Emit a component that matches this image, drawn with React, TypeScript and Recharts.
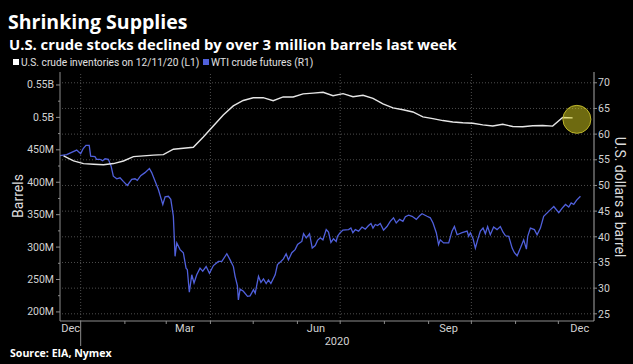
import React from 'react';
import { ComposedChart, Line, XAxis, YAxis, ReferenceLine, ReferenceDot } from 'recharts';

// day 0 = Jan 1 2020
const inventoryDays = [
  -12, -5, 2, 9, 16, 23, 30, 37, 44, 51, 58, 65, 72, 79, 86, 93, 100, 107, 114, 121,
  128, 135, 142, 149, 156, 163, 170, 177, 184, 191, 198, 205, 212, 219, 226, 233, 240,
  247, 254, 261, 268, 275, 282, 289, 296, 303, 310, 317, 324, 331, 338, 345,
];
// million barrels
const inventoryValues = [
  440.6, 432.8, 428.7, 427.8, 427.0, 428.8, 432.8, 439.5, 440.6, 441.8, 442.6, 450.9,
  452.4, 454.0, 469.9, 486.8, 503.8, 517.7, 526.1, 530.3, 530.5, 525.8, 531.5, 531.5,
  536.2, 537.4, 538.8, 533.5, 536.6, 531.8, 534.2, 529.2, 520.7, 514.6, 511.8, 508.4,
  500.7, 498.1, 495.1, 493.0, 491.8, 491.0, 488.4, 486.8, 489.4, 486.0, 485.6, 487.1,
  487.6, 486.5, 499.8, 499.2,
];

const wtiDays = [
  -14.5, -9.8, -2.8, 0, 1.8, 3.7, 6.0, 7.0, 10.0, 11.2, 13.5, 15.4, 17.1, 19.4, 21.3, 22.9,
  25.3, 27.6, 29.9, 32.7, 35.8, 38.1, 39.7, 42.1, 45.1, 48.2, 49.8, 52.2, 54.5, 57.6, 59.2,
  61.5, 63.2, 65.0, 66.2, 67.4, 69.7, 72.0, 73.9, 74.8, 76.2, 77.9, 79.5, 81.4, 83.7, 85.6,
  88.0, 90.3, 93.1, 96.6, 99.0, 102.5, 104.8, 107.1, 108.3, 109.9, 110.6, 111.8, 114.1,
  117.0, 118.8, 121.2, 122.4, 124.7, 126.4, 128.2, 130.1, 131.7, 133.4, 136.4, 138.0,
  140.4, 142.2, 144.1, 145.7, 148.1, 150.4, 152.1, 154.0, 155.1, 156.3, 158.2, 160.5,
  162.4, 164.5, 166.1, 168.0, 169.9, 172.2, 173.8, 175.5, 177.3, 179.2, 180.1, 182.0,
  183.9, 187.9, 189.5, 190.9, 192.6, 194.9, 197.3, 199.6, 201.9, 203.6, 205.0, 206.6,
  208.2, 210.1, 212.4, 214.8, 217.1, 219.4, 221.3, 223.7, 226.0, 227.7, 230.0, 232.4,
  235.4, 237.7, 239.4, 242.9, 245.2, 247.1, 249.4, 251.0, 252.2, 254.5, 258.1, 260.4,
  262.1, 264.0, 267.5, 271.0, 272.1, 273.3, 275.2, 276.8, 278.4, 280.3, 282.2, 283.8,
  285.4, 287.3, 289.6, 292.0, 294.3, 296.2, 297.9, 300.2, 302.6, 304.2, 306.1, 308.4,
  310.7, 312.6, 313.5, 315.4, 318.2, 320.1, 322.4, 324.7, 329.5, 331.8, 335.3, 337.7,
  340.0, 342.3, 344.0, 345.8, 347.7, 350.5,
];
// U.S. dollars a barrel
const wtiPrices = [
  55.8, 56.0, 56.9, 56.2, 57.2, 57.8, 57.8, 55.7, 55.6, 55.1, 55.1, 54.8, 55.2, 55.1, 53.8, 51.8,
  51.3, 51.5, 50.8, 50.0, 51.2, 51.3, 51.0, 51.9, 52.5, 53.3, 52.5, 50.8, 49.2, 46.3, 47.8,
  47.9, 47.3, 44.0, 36.2, 38.8, 37.5, 36.9, 33.9, 33.6, 29.2, 32.6, 31.0, 32.6, 33.9, 33.3,
  34.2, 32.9, 34.4, 35.2, 35.2, 36.7, 35.5, 34.2, 32.3, 30.5, 27.7, 29.8, 29.4,
  28.4, 28.5, 29.7, 29.0, 32.3, 31.1, 31.8, 30.9, 31.6, 30.9, 32.6, 34.6,
  35.2, 35.7, 36.7, 35.5, 36.9, 37.5, 38.5, 38.9, 39.1, 40.6, 39.8, 40.6,
  37.8, 38.3, 39.3, 39.8, 39.4, 41.4, 40.9, 38.9, 39.6, 39.1, 40.1, 40.8,
  41.3, 41.4, 41.7, 40.8, 41.4, 41.1, 41.9, 41.5, 42.2, 42.6, 41.7, 42.4,
  42.2, 42.6, 41.3, 42.0, 43.0, 43.7, 42.7, 43.4, 43.0, 43.9, 44.2, 44.0,
  43.4, 44.1, 44.5, 44.0, 43.7, 42.7, 40.8, 38.5, 39.4, 38.8, 38.8, 41.1,
  42.0, 40.4, 40.8, 41.1, 40.1, 40.8, 39.6, 37.8, 39.4, 41.1, 41.7, 40.6,
  42.0, 40.4, 41.9, 41.4, 42.0, 40.9, 40.2, 40.1, 37.8, 36.9, 36.3, 37.8,
  39.4, 37.6, 40.1, 41.7, 41.4, 40.4, 41.7, 44.0, 45.3, 45.9, 44.7, 45.6,
  46.3, 45.8, 46.6, 46.3, 47.1, 47.9,
];

const monthStartDays = [0, 31, 60, 91, 121, 152, 182, 213, 244, 274, 305, 335];
const quarterDays = [0, 91, 182, 274];
const monthLabels = ['Dec', 'Mar', 'Jun', 'Sep', 'Dec'];
const monthLabelDays = [-7, 73, 165, 258, 350];
const leftTicks = [200, 225, 250, 275, 300, 325, 350, 375, 400, 425, 450, 475, 500, 525, 550];
const rightTicks = [25, 30, 35, 40, 45, 50, 55, 60, 65, 70];
const highlight = { day: 348, value: 497 };

const inventoryData = inventoryDays.map((d, i) => ({ day: d, inv: inventoryValues[i] }));
const wtiData = wtiDays.map((d, i) => ({ day: d, wti: wtiPrices[i] }));

const FONT = 'Roboto, "Liberation Sans", Arial, sans-serif';
const HEAD_FONT = '"Open Sans", Roboto, sans-serif';
const AXIS = '#8c8c8c';
const TICK_TEXT = '#d2d2d2';
const GRID = '#4d4d4d';

const formatLeft = (v: number) => (v >= 500 ? `${v / 1000}B` : `${v}M`);

const LeftTick = (props: any) => {
  const { x, y, payload } = props;
  const v = payload.value;
  const major = v % 50 === 0;
  return (
    <g>
      <line x1={x - (major ? 4 : 2)} x2={x} y1={y} y2={y} stroke={AXIS} />
      {major && (
        <text x={x - 6} y={y} dy={3.5} textAnchor="end" fill={TICK_TEXT} fontSize={10.5} fontFamily={FONT}>
          {formatLeft(v)}
        </text>
      )}
    </g>
  );
};

const RightTick = (props: any) => {
  const { x, y, payload } = props;
  return (
    <g>
      <line x1={x} x2={x + 3} y1={y} y2={y} stroke={AXIS} />
      <text x={x + 4} y={y} dy={3.7} textAnchor="start" fill={TICK_TEXT} fontSize={10.5} fontFamily={FONT}>
        {payload.value}
      </text>
    </g>
  );
};

const BottomTick = (props: any) => {
  const { x, y, payload } = props;
  const v = payload.value;
  const li = monthLabelDays.indexOf(v);
  if (li >= 0) {
    return (
      <text x={x} y={y + 11} textAnchor="middle" fill={TICK_TEXT} fontSize={11} fontFamily={FONT}>
        {monthLabels[li]}
      </text>
    );
  }
  return <line x1={x} x2={x} y1={y} y2={y + (v === 0 ? 25 : 3)} stroke={AXIS} />;
};

export default function App() {
  return (
    <div style={{ position: 'fixed', left: 0, top: 0, width: 633, height: 364, background: '#000', overflow: 'hidden' }}>
      <ComposedChart width={633} height={364} margin={{ top: 72, right: 0, bottom: 0, left: 0 }}>
        <XAxis
          xAxisId="x"
          dataKey="day"
          type="number"
          domain={[-14.5, 360]}
          ticks={[...monthStartDays, ...monthLabelDays]}
          interval={0}
          allowDataOverflow
          height={43}
          tickSize={0}
          tickMargin={0}
          tickLine={false}
          axisLine={{ stroke: AXIS }}
          tick={<BottomTick />}
        />
        <YAxis
          yAxisId="left"
          orientation="left"
          domain={[186, 570]}
          ticks={leftTicks}
          interval={0}
          width={60}
          tickSize={0}
          tickMargin={0}
          tickLine={false}
          axisLine={{ stroke: AXIS }}
          tick={<LeftTick />}
        />
        <YAxis
          yAxisId="right"
          orientation="right"
          domain={[23.6, 72.1]}
          ticks={rightTicks}
          interval={0}
          width={39}
          tickSize={0}
          tickMargin={0}
          tickLine={false}
          axisLine={{ stroke: '#a8a8a8' }}
          tick={<RightTick />}
        />
        {rightTicks.map((t) => (
          <ReferenceLine key={`h${t}`} xAxisId="x" yAxisId="right" y={t} stroke={GRID} strokeDasharray="1 2" />
        ))}
        {quarterDays.map((d) => (
          <ReferenceLine key={`v${d}`} xAxisId="x" yAxisId="left" x={d} stroke={GRID} strokeDasharray="1 2" />
        ))}
        <Line
          xAxisId="x"
          yAxisId="right"
          data={wtiData}
          dataKey="wti"
          type="linear"
          stroke="#5060dc"
          strokeWidth={1.3}
          dot={false}
          isAnimationActive={false}
        />
        <Line
          xAxisId="x"
          yAxisId="left"
          data={inventoryData}
          dataKey="inv"
          type="linear"
          stroke="#e6e6e6"
          strokeWidth={1.4}
          dot={false}
          isAnimationActive={false}
        />
        <ReferenceDot
          xAxisId="x"
          yAxisId="left"
          x={highlight.day}
          y={highlight.value}
          r={14}
          fill="#dcd420"
          fillOpacity={0.5}
          stroke="#bdb52a"
          strokeWidth={1}
        />
      </ComposedChart>
      <svg width={633} height={364} style={{ position: 'absolute', left: 0, top: 0, pointerEvents: 'none' }}>
        <text x={8} y={28.5} fill="#fff" fontSize={19.5} fontWeight="bold" fontFamily={HEAD_FONT}>
          Shrinking Supplies
        </text>
        <text x={9} y={50} fill="#fff" fontSize={14.8} fontWeight="bold" fontFamily={HEAD_FONT}>
          U.S. crude stocks declined by over 3 million barrels last week
        </text>
        <rect x={13} y={59} width={6} height={6} fill="#fff" />
        <text x={21} y={65.5} fill="#e0e0e0" fontSize={10.2} fontFamily={FONT}>
          U.S. crude inventories on 12/11/20 (L1)
        </text>
        <rect x={203} y={59} width={6} height={6} fill="#5060dc" />
        <text x={211} y={65.5} fill="#e0e0e0" fontSize={10.2} fontFamily={FONT}>
          WTI crude futures (R1)
        </text>
        <text
          x={18}
          y={196}
          transform="rotate(-90 18 196)"
          textAnchor="middle"
          dominantBaseline="central"
          fill="#dcdcdc"
          fontSize={14}
          fontFamily={FONT}
        >
          Barrels
        </text>
        <text
          x={620}
          y={197}
          transform="rotate(90 620 197)"
          textAnchor="middle"
          dominantBaseline="central"
          fill="#dcdcdc"
          fontSize={14}
          fontFamily={FONT}
        >
          U.S. dollars a barrel
        </text>
        <text x={337} y={345} textAnchor="middle" fill={TICK_TEXT} fontSize={11} fontFamily={FONT}>
          2020
        </text>
        <text x={10} y={357} fill="#fff" fontSize={10.6} fontWeight="bold" fontFamily={HEAD_FONT}>
          Source: EIA, Nymex
        </text>
      </svg>
    </div>
  );
}
